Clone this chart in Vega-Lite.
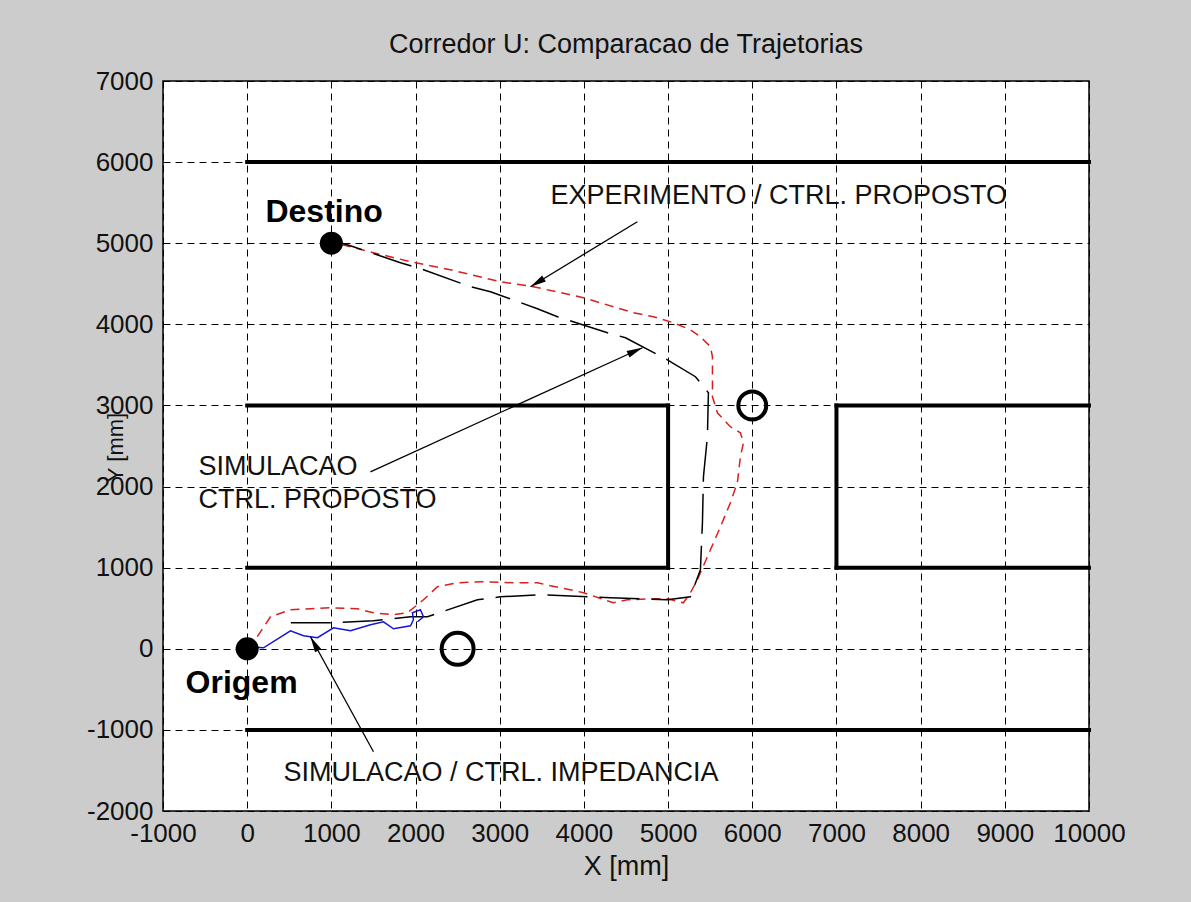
{
  "$schema": "https://vega.github.io/schema/vega-lite/v6.json",
  "width": 926,
  "height": 730,
  "autosize": {"type": "none"},
  "padding": {"left": 163, "top": 81, "right": 102, "bottom": 91},
  "background": "#cccccc",
  "title": {
    "text": "Corredor U: Comparacao de Trajetorias",
    "font": "Liberation Sans",
    "fontSize": 27,
    "fontWeight": "normal",
    "color": "#111111",
    "anchor": "middle",
    "frame": "group",
    "baseline": "alphabetic",
    "offset": -12
  },
  "config": {
    "view": {"fill": "white", "stroke": "black", "strokeWidth": 1.5},
    "axis": {
      "grid": true,
      "gridColor": "black",
      "gridDash": [7, 5],
      "gridOpacity": 1,
      "gridWidth": 1,
      "domain": false,
      "ticks": false,
      "labelFont": "Liberation Sans",
      "labelFontSize": 26,
      "labelColor": "#111111",
      "labelOverlap": false,
      "labelFlush": false,
      "labelExpr": "'' + datum.value",
      "titleFont": "Liberation Sans",
      "titleFontSize": 27,
      "titleFontWeight": "normal",
      "titleColor": "#111111"
    }
  },
  "encoding": {
    "x": {
      "field": "x",
      "type": "quantitative",
      "scale": {"domain": [-1000, 10000], "nice": false, "zero": false},
      "axis": {
        "values": [-1000, 0, 1000, 2000, 3000, 4000, 5000, 6000, 7000, 8000, 9000, 10000],
        "labelPadding": 9,
        "title": "X [mm]",
        "titleY": 55,
        "titleBaseline": "middle"
      }
    },
    "y": {
      "field": "y",
      "type": "quantitative",
      "scale": {"domain": [-2000, 7000], "nice": false, "zero": false},
      "axis": {
        "values": [-2000, -1000, 0, 1000, 2000, 3000, 4000, 5000, 6000, 7000],
        "labelPadding": 10,
        "title": "Y [mm]",
        "titleFontSize": 22,
        "titleX": -48,
        "titleY": 366,
        "titleAlign": "center",
        "titleBaseline": "middle",
        "titleAngle": 270
      }
    }
  },
  "layer": [
    {
      "data": {"values": [
        {"x": 0, "y": 6000, "x2": 10000, "y2": 6000},
        {"x": 0, "y": -1000, "x2": 10000, "y2": -1000},
        {"x": 0, "y": 3000, "x2": 5000, "y2": 3000},
        {"x": 5000, "y": 3000, "x2": 5000, "y2": 1000},
        {"x": 0, "y": 1000, "x2": 5000, "y2": 1000},
        {"x": 7000, "y": 3000, "x2": 10000, "y2": 3000},
        {"x": 7000, "y": 3000, "x2": 7000, "y2": 1000},
        {"x": 7000, "y": 1000, "x2": 10000, "y2": 1000}
      ]},
      "mark": {"type": "rule", "color": "black", "strokeWidth": 4, "strokeCap": "square"},
      "encoding": {"x2": {"field": "x2"}, "y2": {"field": "y2"}}
    },
    {
      "data": {"values": [
        {"i": 0, "x": 120, "y": 150}, {"i": 1, "x": 277, "y": 395}, {"i": 2, "x": 514, "y": 481},
        {"i": 3, "x": 752, "y": 493}, {"i": 4, "x": 989, "y": 506}, {"i": 5, "x": 1310, "y": 493},
        {"i": 6, "x": 1500, "y": 444}, {"i": 7, "x": 1738, "y": 419}, {"i": 8, "x": 1904, "y": 444},
        {"i": 9, "x": 2094, "y": 604}, {"i": 10, "x": 2260, "y": 764}, {"i": 11, "x": 2498, "y": 814},
        {"i": 12, "x": 2807, "y": 826}, {"i": 13, "x": 3163, "y": 814}, {"i": 14, "x": 3448, "y": 814},
        {"i": 15, "x": 3602, "y": 777}, {"i": 16, "x": 3840, "y": 727}, {"i": 17, "x": 3994, "y": 691},
        {"i": 18, "x": 4351, "y": 567}, {"i": 19, "x": 4517, "y": 604}, {"i": 20, "x": 4826, "y": 617},
        {"i": 21, "x": 4992, "y": 617}, {"i": 22, "x": 5182, "y": 567}, {"i": 23, "x": 5265, "y": 690},
        {"i": 24, "x": 5348, "y": 851}, {"i": 25, "x": 5467, "y": 1134}, {"i": 26, "x": 5622, "y": 1504},
        {"i": 27, "x": 5740, "y": 1800}, {"i": 28, "x": 5823, "y": 2047}, {"i": 29, "x": 5859, "y": 2367},
        {"i": 30, "x": 5895, "y": 2540}, {"i": 31, "x": 5859, "y": 2663}, {"i": 32, "x": 5740, "y": 2737},
        {"i": 33, "x": 5586, "y": 2910}, {"i": 34, "x": 5527, "y": 3107}, {"i": 35, "x": 5527, "y": 3354},
        {"i": 36, "x": 5527, "y": 3600}, {"i": 37, "x": 5503, "y": 3724}, {"i": 38, "x": 5384, "y": 3847},
        {"i": 39, "x": 5265, "y": 3933}, {"i": 40, "x": 5063, "y": 4020}, {"i": 41, "x": 4826, "y": 4094},
        {"i": 42, "x": 4588, "y": 4143}, {"i": 43, "x": 3994, "y": 4328}, {"i": 44, "x": 3400, "y": 4464},
        {"i": 45, "x": 3008, "y": 4525}, {"i": 46, "x": 2414, "y": 4673}, {"i": 47, "x": 1939, "y": 4772},
        {"i": 48, "x": 1500, "y": 4883}, {"i": 49, "x": 1262, "y": 4945}, {"i": 50, "x": 1100, "y": 4990}
      ]},
      "mark": {"type": "line", "color": "#d82020", "strokeWidth": 1.5, "strokeDash": [9, 6]},
      "encoding": {"order": {"field": "i", "type": "quantitative"}}
    },
    {
      "data": {"values": [
        {"i": 0, "x": 518, "y": 321}, {"i": 1, "x": 993, "y": 321}, {"i": 2, "x": 1500, "y": 345},
        {"i": 3, "x": 1939, "y": 395}, {"i": 4, "x": 2141, "y": 395}, {"i": 5, "x": 2735, "y": 604},
        {"i": 6, "x": 3008, "y": 641}, {"i": 7, "x": 3483, "y": 666}, {"i": 8, "x": 4315, "y": 629},
        {"i": 9, "x": 4992, "y": 604}, {"i": 10, "x": 5265, "y": 641}, {"i": 11, "x": 5384, "y": 974},
        {"i": 12, "x": 5408, "y": 1554}, {"i": 13, "x": 5420, "y": 2121}, {"i": 14, "x": 5467, "y": 2614},
        {"i": 15, "x": 5479, "y": 3157}, {"i": 16, "x": 5325, "y": 3354}, {"i": 17, "x": 4992, "y": 3563},
        {"i": 18, "x": 4494, "y": 3835}, {"i": 19, "x": 4280, "y": 3896}, {"i": 20, "x": 3686, "y": 4094},
        {"i": 21, "x": 3448, "y": 4192}, {"i": 22, "x": 2890, "y": 4402}, {"i": 23, "x": 2653, "y": 4464},
        {"i": 24, "x": 2059, "y": 4686}, {"i": 25, "x": 1821, "y": 4760}, {"i": 26, "x": 1262, "y": 4957},
        {"i": 27, "x": 1108, "y": 5006}
      ]},
      "mark": {"type": "line", "color": "black", "strokeWidth": 1.5, "strokeDash": [40, 12]},
      "encoding": {"order": {"field": "i", "type": "quantitative"}}
    },
    {
      "data": {"values": [
        {"i": 0, "x": 30, "y": 20}, {"i": 1, "x": 194, "y": 12}, {"i": 2, "x": 514, "y": 222},
        {"i": 3, "x": 669, "y": 160}, {"i": 4, "x": 835, "y": 136}, {"i": 5, "x": 1025, "y": 259},
        {"i": 6, "x": 1227, "y": 222}, {"i": 7, "x": 1465, "y": 296}, {"i": 8, "x": 1619, "y": 333},
        {"i": 9, "x": 1738, "y": 247}, {"i": 10, "x": 1940, "y": 284}, {"i": 11, "x": 1975, "y": 358},
        {"i": 12, "x": 1963, "y": 444}, {"i": 13, "x": 2058, "y": 481}, {"i": 14, "x": 2094, "y": 395},
        {"i": 15, "x": 2023, "y": 333}
      ]},
      "mark": {"type": "line", "color": "#1515d8", "strokeWidth": 1.5},
      "encoding": {"order": {"field": "i", "type": "quantitative"}}
    },
    {
      "data": {"values": [
        {"x": 4635, "y": 5265, "x2": 3365, "y2": 4464},
        {"x": 1464, "y": 2182, "x2": 4695, "y2": 3711},
        {"x": 1500, "y": -1270, "x2": 752, "y2": 148}
      ]},
      "mark": {"type": "rule", "color": "black", "strokeWidth": 1.3},
      "encoding": {"x2": {"field": "x2"}, "y2": {"field": "y2"}}
    },
    {
      "data": {"values": [{"x": 3365, "y": 4464}]},
      "mark": {"type": "point", "shape": "M0,0L-0.45,2L0.45,2Z", "filled": true, "color": "black", "opacity": 1, "size": 250, "angle": 239}
    },
    {
      "data": {"values": [{"x": 4695, "y": 3711}]},
      "mark": {"type": "point", "shape": "M0,0L-0.45,2L0.45,2Z", "filled": true, "color": "black", "opacity": 1, "size": 250, "angle": 65.5}
    },
    {
      "data": {"values": [{"x": 752, "y": 148}]},
      "mark": {"type": "point", "shape": "M0,0L-0.45,2L0.45,2Z", "filled": true, "color": "black", "opacity": 1, "size": 250, "angle": 331}
    },
    {
      "data": {"values": [{"x": 0, "y": 0}, {"x": 1000, "y": 5000}]},
      "mark": {"type": "point", "shape": "circle", "filled": true, "color": "black", "opacity": 1, "size": 531}
    },
    {
      "data": {"values": [{"x": 2500, "y": 0}]},
      "mark": {"type": "point", "shape": "circle", "filled": false, "color": "black", "opacity": 1, "strokeWidth": 4, "size": 1018}
    },
    {
      "data": {"values": [{"x": 6000, "y": 3000}]},
      "mark": {"type": "point", "shape": "circle", "filled": false, "color": "black", "opacity": 1, "strokeWidth": 4, "size": 780}
    },
    {
      "data": {"values": [
        {"x": 217, "y": 5382, "label": "Destino"},
        {"x": -732, "y": -420, "label": "Origem"}
      ]},
      "mark": {"type": "text", "align": "left", "baseline": "middle", "font": "Liberation Sans", "fontSize": 32, "fontWeight": "bold", "color": "black"},
      "encoding": {"text": {"field": "label"}}
    },
    {
      "data": {"values": [
        {"x": 3602, "y": 5585, "label": "EXPERIMENTO / CTRL. PROPOSTO"},
        {"x": -578, "y": 2244, "label": "SIMULACAO"},
        {"x": -578, "y": 1837, "label": "CTRL. PROPOSTO"},
        {"x": 431, "y": -1529, "label": "SIMULACAO / CTRL. IMPEDANCIA"}
      ]},
      "mark": {"type": "text", "align": "left", "baseline": "middle", "font": "Liberation Sans", "fontSize": 27, "color": "#111111"},
      "encoding": {"text": {"field": "label"}}
    }
  ]
}
